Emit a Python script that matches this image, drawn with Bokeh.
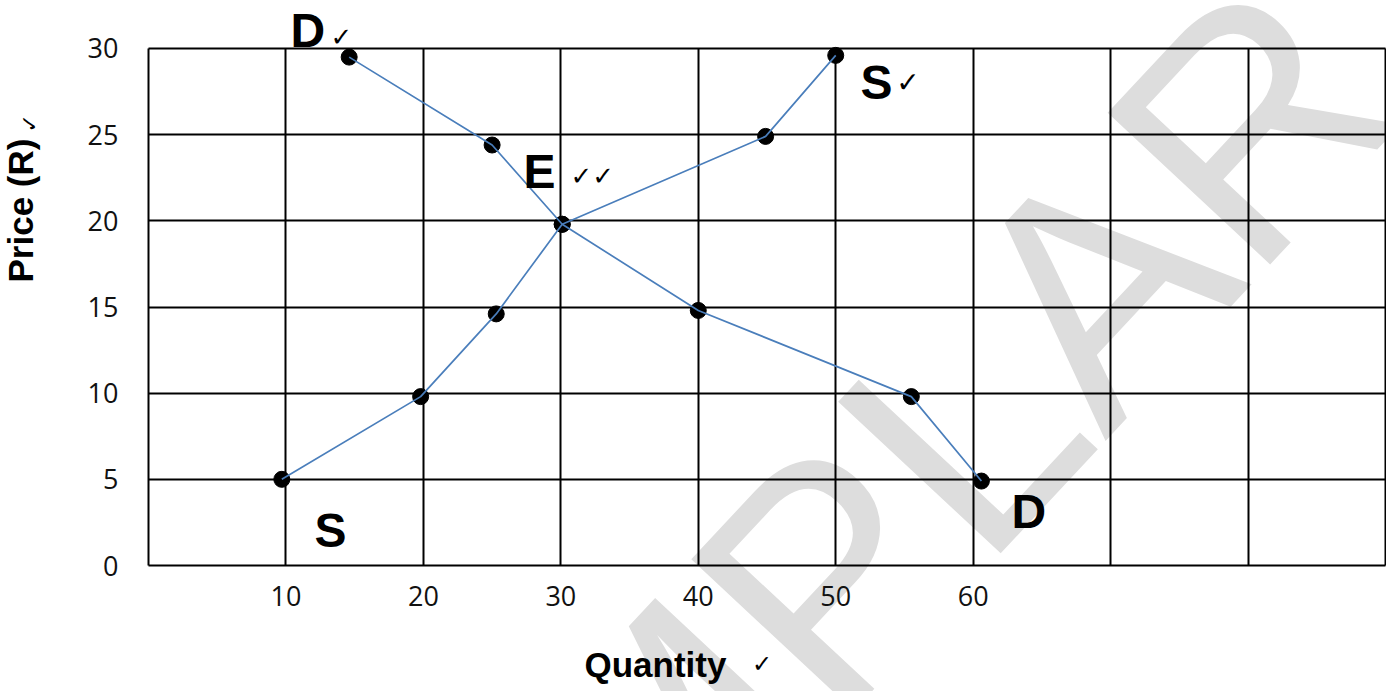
import math
from bokeh.plotting import figure
from bokeh.models import Range1d, FixedTicker, Label
from bokeh.embed import file_html
from bokeh.resources import INLINE

# ---- data ----
supply_q = [9.7, 19.8, 25.3, 30.1, 44.9, 50.0]
supply_p = [5.0, 9.8, 14.6, 19.8, 24.9, 29.6]
demand_q = [14.6, 25.0, 30.1, 40.0, 55.5, 60.6]
demand_p = [29.5, 24.4, 19.8, 14.8, 9.8, 4.9]
x_tick_values = [10, 20, 30, 40, 50, 60]
y_tick_values = [0, 5, 10, 15, 20, 25, 30]
x_grid_values = [0, 10, 20, 30, 40, 50, 60, 70, 80, 90]
y_grid_values = [0, 5, 10, 15, 20, 25, 30]

# frame covers the whole canvas so that free texts outside the chart box are not clipped
p = figure(width=1386, height=691,
           x_range=Range1d(-10.768, 90.073), y_range=Range1d(-7.311, 32.785),
           output_backend="svg", toolbar_location=None, min_border=0)
p.min_border_left = 0
p.min_border_right = 0
p.min_border_top = 0
p.min_border_bottom = 0
p.background_fill_color = "white"
p.border_fill_color = "white"
p.outline_line_color = None

p.xaxis.ticker = FixedTicker(ticks=x_tick_values)
p.yaxis.ticker = FixedTicker(ticks=y_tick_values)
p.xaxis.fixed_location = 0
p.yaxis.fixed_location = 0
p.xgrid.ticker = FixedTicker(ticks=x_grid_values)
p.ygrid.ticker = FixedTicker(ticks=y_grid_values)
p.xgrid.cross_bounds = (0, 30)
p.ygrid.cross_bounds = (0, 90)
for g in (p.xgrid, p.ygrid):
    g.grid_line_color = "black"
    g.grid_line_width = 2
    g.grid_line_alpha = 1.0

for ax in (p.xaxis, p.yaxis):
    ax.axis_line_color = None
    ax.major_tick_line_color = None
    ax.minor_tick_line_color = None
    ax.major_tick_out = 0
    ax.major_tick_in = 0
    ax.major_label_text_font = "Open Sans"
    ax.major_label_text_font_size = "27px"
    ax.major_label_text_color = "#111111"
p.xaxis.major_label_standoff = 20
p.yaxis.major_label_standoff = 30

# watermark (behind everything)
p.add_layout(Label(x=85.91, y=30.68, text="EXEMPLAR", angle=math.radians(47),
                   text_align="right", text_baseline="alphabetic",
                   text_font="Liberation Sans", text_font_size="323px",
                   text_color="#dddddd", level="image"))

# dots then lines
p.scatter(supply_q, supply_p, size=16, color="black")
p.scatter(demand_q, demand_p, size=16, color="black")
p.line(supply_q, supply_p, line_color="#4a7ebb", line_width=1.7)
p.line(demand_q, demand_p, line_color="#4a7ebb", line_width=1.7)

def big(x, y, t):
    p.add_layout(Label(x=x, y=y, text=t, text_align="left", text_baseline="alphabetic",
                       text_font="Liberation Sans", text_font_style="bold",
                       text_font_size="48px", text_color="black"))

def tick(x, y, t, size="26px", angle=0.0):
    p.add_layout(Label(x=x, y=y, text=t, angle=angle, text_align="left",
                       text_baseline="alphabetic", text_font="DejaVu Sans",
                       text_font_size=size, text_color="black"))

big(10.33, 31.06, "D")
tick(13.24, 30.66, "✓")
big(51.8, 28.04, "S")
tick(54.4, 28.0, "✓", size="28px")
big(27.28, 22.88, "E")
tick(30.7, 22.6, "✓✓")
big(12.08, 2.05, "S")
big(62.79, 3.15, "D")

# axis titles
p.add_layout(Label(x=31.72, y=-5.72, text="Quantity", text_align="left",
                   text_baseline="alphabetic", text_font="Liberation Sans",
                   text_font_style="bold", text_font_size="35px", text_color="black"))
tick(43.9, -5.7, "✓", size="24px")
p.add_layout(Label(x=-9.31, y=16.42, text="Price (R)", angle=math.pi / 2,
                   text_align="left", text_baseline="alphabetic",
                   text_font="Liberation Sans", text_font_style="bold",
                   text_font_size="35px", text_color="black"))
tick(-8.64, 25.13, "✓", size="22px", angle=math.pi / 2)

open("out.html", "w").write(file_html(p, INLINE))
